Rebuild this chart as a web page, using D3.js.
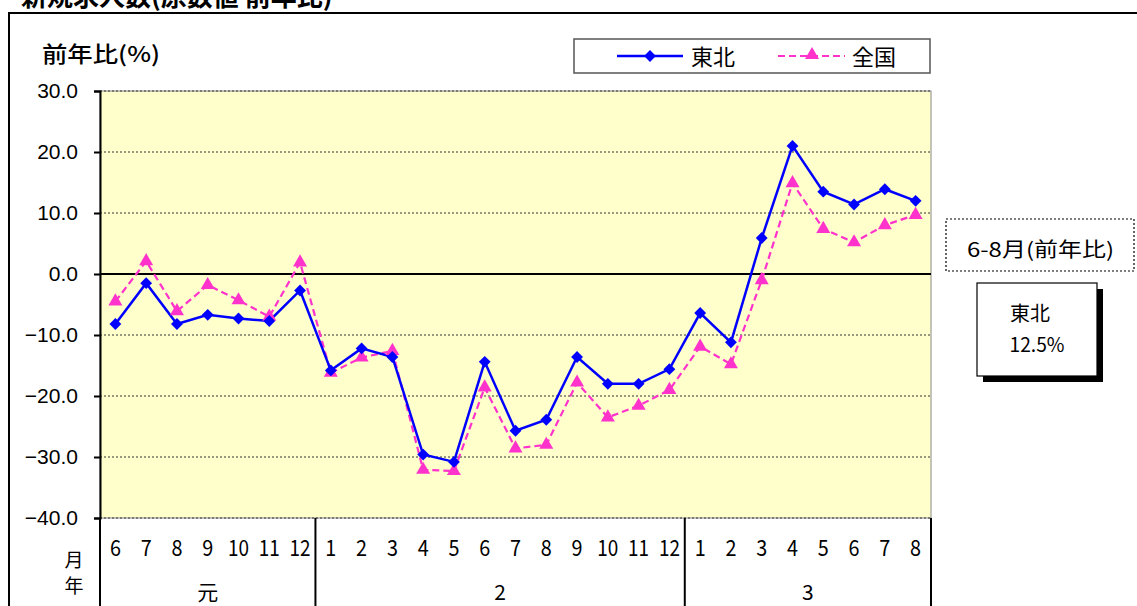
<!DOCTYPE html>
<html>
<head>
<meta charset="utf-8">
<script src="https://cdn.jsdelivr.net/npm/d3@7"></script>
<style>
  body { margin: 0; background: #fff; }
  svg { display: block; }
</style>
</head>
<body>
<svg width="1137" height="606"></svg>
<script>
// data
var months = ["6","7","8","9","10","11","12","1","2","3","4","5","6","7","8","9","10","11","12","1","2","3","4","5","6","7","8"];
var years = [{label: "元", from: 0, to: 7}, {label: "2", from: 7, to: 19}, {label: "3", from: 19, to: 27}];
var tohoku = [-8.2,-1.5,-8.2,-6.7,-7.3,-7.7,-2.7,
  -15.8,-12.2,-13.6,-29.6,-30.8,-14.4,-25.7,-23.9,-13.6,-18.0,-18.0,-15.6,
  -6.4,-11.2,5.9,21.0,13.5,11.4,13.9,12.0];
var zenkoku = [-4.5,2.1,-6.1,-1.8,-4.3,-7.0,1.9,
  -16.2,-13.7,-12.6,-32.1,-32.3,-18.6,-28.6,-28.0,-17.8,-23.5,-21.6,-19.0,
  -11.9,-14.8,-1.0,14.9,7.4,5.2,8.0,9.7];
var yTicks = [30,20,10,0,-10,-20,-30,-40];

var svg = d3.select("svg");
var plotL = 100, plotR = 931, plotT = 91, plotB = 518;
var jp = "Noto Sans CJK JP";

var x = d3.scaleBand().domain(d3.range(months.length)).range([plotL, plotR]);
var y = d3.scaleLinear().domain([-40, 30]).range([plotB, plotT]);

// cut-off title at the very top
svg.append("text").attr("x", 21).attr("y", 6)
  .attr("font-family", jp).attr("font-size", 26).attr("font-weight", "bold")
  .text("新規求人数(原数値 前年比)");

// outer frame
svg.append("path").attr("d", "M9,606 V13 H1137")
  .attr("fill", "none").attr("stroke", "#000").attr("stroke-width", 2);

// plot background
svg.append("rect").attr("x", plotL).attr("y", plotT).attr("width", plotR - plotL).attr("height", plotB - plotT)
  .attr("fill", "#FFFFCC").attr("stroke", "#888").attr("stroke-width", 1);

// gridlines
svg.selectAll(".grid").data(yTicks.filter(function(d) { return d !== 0; })).enter().append("line")
  .attr("x1", plotL).attr("x2", plotR)
  .attr("y1", function(d) { return y(d); }).attr("y2", function(d) { return y(d); })
  .attr("stroke", "#333").attr("stroke-width", 1).attr("stroke-dasharray", "2,2");

svg.append("line").attr("x1", plotL).attr("x2", plotR).attr("y1", y(0)).attr("y2", y(0))
  .attr("stroke", "#000").attr("stroke-width", 2);

// y axis
var yAxis = svg.append("g").attr("transform", "translate(" + plotL + ",0)")
  .call(d3.axisLeft(y).tickValues(yTicks).tickSize(6).tickPadding(16)
    .tickFormat(function(d) { return (d < 0 ? "\u2212" + Math.abs(d).toFixed(1) : d.toFixed(1)); }));
yAxis.select(".domain").attr("stroke", "#000").attr("stroke-width", 2);
yAxis.selectAll(".tick line").attr("stroke", "#000").attr("stroke-width", 2);
yAxis.selectAll(".tick text").attr("font-family", "Liberation Sans").attr("font-size", 21).attr("fill", "#000");

svg.append("text").attr("x", 42).attr("y", 62)
  .attr("font-family", jp).attr("font-size", 22).attr("font-weight", 500)
  .attr("textLength", 118).attr("lengthAdjust", "spacingAndGlyphs").text("前年比(%)");

// category table below the plot
svg.append("line").attr("x1", plotL).attr("x2", plotL).attr("y1", plotB).attr("y2", 606)
  .attr("stroke", "#000").attr("stroke-width", 2);
svg.selectAll(".sep").data(years).enter().append("line")
  .attr("x1", function(d) { return x(d.to - 1) + x.bandwidth(); })
  .attr("x2", function(d) { return x(d.to - 1) + x.bandwidth(); })
  .attr("y1", plotB).attr("y2", 606)
  .attr("stroke", "#000").attr("stroke-width", 2);

svg.selectAll(".mon").data(months).enter().append("text")
  .attr("x", function(d, i) { return x(i) + x.bandwidth() / 2; })
  .attr("y", 556).attr("text-anchor", "middle")
  .attr("font-family", jp).attr("font-size", 22)
  .attr("textLength", function(d) { return d.length > 1 ? 21 : 11; })
  .attr("lengthAdjust", "spacingAndGlyphs")
  .text(function(d) { return d; });

svg.selectAll(".yr").data(years).enter().append("text")
  .attr("x", function(d) { return (x(d.from) + x(d.to - 1) + x.bandwidth()) / 2; })
  .attr("y", 600).attr("text-anchor", "middle")
  .attr("font-family", jp).attr("font-size", 21)
  .text(function(d) { return d.label; });

svg.append("text").attr("x", 74).attr("y", 567).attr("text-anchor", "middle")
  .attr("font-family", jp).attr("font-size", 19).text("月");
svg.append("text").attr("x", 74).attr("y", 593).attr("text-anchor", "middle")
  .attr("font-family", jp).attr("font-size", 19).text("年");

// series
var cx = function(d, i) { return x(i) + x.bandwidth() / 2; };
var line = d3.line().x(cx).y(function(d) { return y(d); });

svg.append("path").datum(zenkoku).attr("d", line)
  .attr("fill", "none").attr("stroke", "#FF33CC").attr("stroke-width", 2.2).attr("stroke-dasharray", "7,4");
svg.append("path").datum(tohoku).attr("d", line)
  .attr("fill", "none").attr("stroke", "#0000FF").attr("stroke-width", 2.5);

var tri = d3.symbol().type(d3.symbolTriangle).size(85);
var dia = d3.symbol().type(d3.symbolSquare).size(70);

svg.selectAll(".tri").data(zenkoku).enter().append("path")
  .attr("d", tri)
  .attr("transform", function(d, i) { return "translate(" + cx(d, i) + "," + y(d) + ")"; })
  .attr("fill", "#FF33CC");
svg.selectAll(".dia").data(tohoku).enter().append("path")
  .attr("d", dia)
  .attr("transform", function(d, i) { return "translate(" + cx(d, i) + "," + y(d) + ") rotate(45)"; })
  .attr("fill", "#0000FF");

// legend
var lg = svg.append("g");
lg.append("rect").attr("x", 574).attr("y", 39).attr("width", 356).attr("height", 34)
  .attr("fill", "#fff").attr("stroke", "#555").attr("stroke-width", 1.5);
lg.append("line").attr("x1", 617).attr("x2", 683).attr("y1", 56).attr("y2", 56)
  .attr("stroke", "#0000FF").attr("stroke-width", 2.5);
lg.append("path").attr("d", dia).attr("transform", "translate(650,56) rotate(45)").attr("fill", "#0000FF");
lg.append("text").attr("x", 691).attr("y", 65).attr("font-family", jp).attr("font-size", 22).text("東北");
lg.append("line").attr("x1", 778).attr("x2", 845).attr("y1", 56).attr("y2", 56)
  .attr("stroke", "#FF33CC").attr("stroke-width", 2.2).attr("stroke-dasharray", "7,4");
lg.append("path").attr("d", tri).attr("transform", "translate(812,55)").attr("fill", "#FF33CC");
lg.append("text").attr("x", 852).attr("y", 65).attr("font-family", jp).attr("font-size", 22).text("全国");

// side boxes
svg.append("rect").attr("x", 946).attr("y", 219).attr("width", 188).attr("height", 52)
  .attr("fill", "#fff").attr("stroke", "#000").attr("stroke-width", 1.2).attr("stroke-dasharray", "2,2");
svg.append("text").attr("x", 967).attr("y", 257)
  .attr("font-family", jp).attr("font-size", 20)
  .attr("textLength", 147).attr("lengthAdjust", "spacingAndGlyphs").text("6-8月(前年比)");

svg.append("rect").attr("x", 983).attr("y", 289).attr("width", 120).attr("height", 93).attr("fill", "#000");
svg.append("rect").attr("x", 977).attr("y", 283).attr("width", 120).attr("height", 93)
  .attr("fill", "#fff").attr("stroke", "#000").attr("stroke-width", 1.2);
svg.append("text").attr("x", 1030).attr("y", 321).attr("text-anchor", "middle")
  .attr("font-family", jp).attr("font-size", 20).text("東北");
svg.append("text").attr("x", 1037).attr("y", 352).attr("text-anchor", "middle")
  .attr("font-family", jp).attr("font-size", 20)
  .attr("textLength", 55).attr("lengthAdjust", "spacingAndGlyphs").text("12.5%");
</script>
</body>
</html>
